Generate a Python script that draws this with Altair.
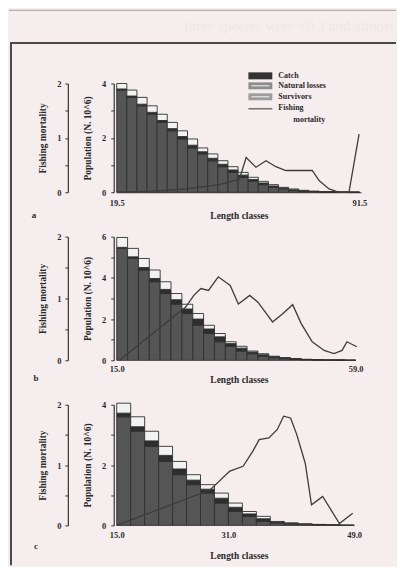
import altair as alt
import pandas as pd

# ---------------- data ----------------
components = ["Survivors", "Catch", "Natural losses"]

# panel a
a_classes = [19.5, 22.5, 25.5, 28.5, 31.5, 34.5, 37.5, 40.5, 43.5, 46.5, 49.5, 52.5,
             55.5, 58.5, 61.5, 64.5, 67.5, 70.5, 73.5, 76.5, 79.5, 82.5, 85.5, 88.5]
a_survivors = [3.76, 3.49, 3.18, 2.87, 2.57, 2.26, 1.96, 1.63, 1.41, 1.16, 0.94, 0.73,
               0.55, 0.40, 0.28, 0.18, 0.12, 0.07, 0.04, 0.02, 0.01, 0.01, 0.0, 0.0]
a_catch = [0.04, 0.05, 0.06, 0.07, 0.07, 0.08, 0.09, 0.10, 0.08, 0.09, 0.09, 0.09,
           0.08, 0.07, 0.06, 0.05, 0.03, 0.02, 0.01, 0.01, 0.0, 0.0, 0.0, 0.0]
a_natural = [0.20, 0.22, 0.25, 0.24, 0.23, 0.23, 0.21, 0.23, 0.14, 0.16, 0.13, 0.12,
             0.10, 0.08, 0.06, 0.05, 0.03, 0.03, 0.02, 0.01, 0.01, 0.0, 0.01, 0.0]
a_line_len = [19.5, 30.0, 40.0, 50.0, 55.9, 57.9, 60.8, 63.8, 66.7, 69.7, 77.5, 79.6,
              82.5, 85.5, 88.4, 91.4]
a_line_f = [0.0, 0.02, 0.06, 0.14, 0.24, 0.64, 0.46, 0.58, 0.47, 0.40, 0.40, 0.21,
            0.06, 0.0, 0.0, 1.07]

# panel b
b_classes = [15, 17, 19, 21, 23, 25, 27, 29, 31, 33, 35, 37, 39, 41, 43, 45, 47, 49,
             51, 53, 55, 57]
b_survivors = [5.43, 4.94, 4.38, 3.81, 3.24, 2.72, 2.27, 1.70, 1.30, 0.90, 0.68, 0.45,
               0.32, 0.20, 0.13, 0.08, 0.05, 0.03, 0.02, 0.01, 0.01, 0.0]
b_catch = [0.05, 0.08, 0.12, 0.16, 0.20, 0.22, 0.22, 0.30, 0.22, 0.24, 0.13, 0.14,
           0.08, 0.07, 0.04, 0.03, 0.02, 0.01, 0.01, 0.0, 0.0, 0.0]
b_natural = [0.48, 0.41, 0.44, 0.41, 0.37, 0.30, 0.23, 0.27, 0.18, 0.16, 0.09, 0.09,
             0.05, 0.05, 0.03, 0.02, 0.01, 0.01, 0.0, 0.01, 0.0, 0.01]
b_line_len = [15.5, 27.7, 29.2, 30.5, 31.9, 32.8, 33.7, 35.9, 37.4, 39.5, 41.0, 42.6,
              43.7, 45.5, 47.4, 49.0, 51.0, 53.2, 55.0, 56.5, 57.4, 59.2]
b_line_f = [0.0, 0.86, 1.05, 1.16, 1.13, 1.24, 1.35, 1.21, 0.91, 1.05, 0.94, 0.75,
            0.62, 0.75, 0.90, 0.59, 0.30, 0.16, 0.11, 0.16, 0.30, 0.22]

# panel c
c_classes = [15, 17, 19, 21, 23, 25, 27, 29, 31, 33, 35, 37, 39, 41, 43, 45, 47]
c_survivors = [3.60, 3.12, 2.62, 2.12, 1.68, 1.35, 1.07, 0.74, 0.46, 0.30, 0.13, 0.08,
               0.05, 0.03, 0.02, 0.01, 0.0]
c_catch = [0.12, 0.15, 0.18, 0.20, 0.19, 0.15, 0.13, 0.16, 0.14, 0.08, 0.09, 0.03,
           0.02, 0.01, 0.01, 0.0, 0.0]
c_natural = [0.33, 0.33, 0.32, 0.30, 0.25, 0.18, 0.15, 0.17, 0.14, 0.08, 0.08, 0.02,
             0.01, 0.01, 0.0, 0.01, 0.01]
c_line_len = [15.0, 28.4, 31.2, 33.1, 34.5, 35.4, 36.8, 38.0, 38.9, 39.9, 40.8, 42.0,
              42.9, 44.5, 46.9, 48.8]
c_line_f = [0.0, 0.59, 0.90, 0.98, 1.23, 1.42, 1.45, 1.59, 1.81, 1.78, 1.50, 1.03,
            0.34, 0.48, 0.03, 0.20]

legend_labels = ["Catch", "Natural losses", "Survivors", "Fishing", "mortality"]
panel_letters = ["a", "b", "c"]
x_title = "Length classes"
y_pop_title = "Population (N. 10^6)"
y_fm_title = "Fishing mortality"
bleed_text = ["three species were <0.3 and almost"]

FONT = "Liberation Serif"
INK = "#2a2a2a"


def bars_frame(classes, width, surv, catch, nat):
    rows = []
    for L, s, c, n in zip(classes, surv, catch, nat):
        for k, (comp, v) in enumerate(zip(components, [s, c, n])):
            rows.append({"lo": L, "hi": L + width, "comp": comp, "val": v, "k": k})
    return pd.DataFrame(rows)


def one(text):
    return pd.DataFrame({"t": [text]})


def panel(classes, width, surv, catch, nat, line_len, line_f, xdom, xticks,
          ymax, surv_color, height, label_pad, title_pad, show_domain,
          letter, letter_xy, extra=None):
    df = bars_frame(classes, width, surv, catch, nat)
    xscale = alt.Scale(domain=xdom, nice=False, zero=False)
    xaxis = alt.Axis(
        values=xticks, format=".1f", ticks=False, domain=show_domain,
        domainColor="#444", domainWidth=1.2, labelPadding=label_pad,
        labelFlush=False, labelOverlap=False, labelBound=False,
        title=x_title, titlePadding=title_pad, grid=False,
        labelFont=FONT, labelFontSize=8.5, labelFontWeight="bold", labelColor=INK,
        titleFont=FONT, titleFontSize=9.5, titleFontWeight="bold", titleColor=INK)
    bars = alt.Chart(df).transform_stack(
        stack="val", groupby=["lo"], as_=["y0", "y1"],
        sort=[alt.SortField(field="k", order="ascending")]
    ).mark_rect(stroke="#303030", strokeWidth=0.9).encode(
        x=alt.X("lo:Q", scale=xscale, axis=xaxis, title=x_title),
        x2="hi:Q",
        y=alt.Y("y0:Q", scale=alt.Scale(domain=[0, ymax], nice=False), axis=alt.Axis(
            orient="left", offset=3, values=list(range(0, ymax + 1)),
            labelExpr="datum.value % 2 == 0 ? datum.value : ''",
            tickSize=3, labelPadding=5, domainColor="#333", tickColor="#333",
            domainWidth=1.2, grid=False, title=y_pop_title, titlePadding=9,
            labelFont=FONT, labelFontSize=8.5, labelFontWeight="bold", labelColor=INK,
            titleFont=FONT, titleFontSize=9.5, titleFontWeight="bold", titleColor=INK)),
        y2="y1:Q",
        fill=alt.Fill("comp:N", scale=alt.Scale(
            domain=components, range=[surv_color, "#2e2e2e", "#f2f2f2"]), legend=None),
    )
    ldf = pd.DataFrame({"L": line_len, "F": line_f})
    line = alt.Chart(ldf).mark_line(color="#3c3c3c", strokeWidth=1.3).encode(
        x=alt.X("L:Q", scale=xscale, axis=xaxis, title=x_title),
        y=alt.Y("F:Q", scale=alt.Scale(domain=[0, 2], nice=False), axis=alt.Axis(
            orient="left", offset=49, values=[0, 0.5, 1, 1.5, 2],
            labelExpr="datum.value % 1 == 0 ? datum.value : ''",
            tickSize=3, labelPadding=4, domainColor="#333", tickColor="#333",
            domainWidth=1.2, grid=False, title=y_fm_title, titlePadding=9,
            labelFont=FONT, labelFontSize=8.5, labelFontWeight="bold", labelColor=INK,
            titleFont=FONT, titleFontSize=9.5, titleFontWeight="bold", titleColor=INK)),
    )
    let = alt.Chart(one(letter)).mark_text(
        font=FONT, fontSize=9, fontWeight="bold", color=INK
    ).encode(x=alt.value(letter_xy[0]), y=alt.value(letter_xy[1]), text="t:N")
    layers = [bars, line, let] + (extra or [])
    return alt.layer(*layers).resolve_scale(y="independent").properties(
        width=245, height=height)


# decorations for the top panel: page edge, frame, bleed-through text, legend
deco = []
deco.append(alt.Chart(one("edge")).mark_rule(color="#a8a0a0", strokeWidth=1).encode(
    x=alt.value(-108), x2=alt.value(280), y=alt.value(-73.4)))
deco.append(alt.Chart(one("frame")).mark_rule(color="#4a4a4a", strokeWidth=2).encode(
    x=alt.value(-107), x2=alt.value(280), y=alt.value(-40.7)))
deco.append(alt.Chart(one("frame")).mark_rule(color="#4a4a4a", strokeWidth=2).encode(
    x=alt.value(-106), y=alt.value(-40.7), y2=alt.value(483)))
deco.append(alt.Chart(one(bleed_text[0])).mark_text(
    font=FONT, fontSize=15, color="#f0e6e6", align="right", baseline="middle"
).encode(x=alt.value(278), y=alt.value(-57.7), text="t:N"))

swatch_fill = ["#333333", "#8e8e8e", "#9c9c9c"]
row_y = [-7.7, 2.3, 13.3]
for lab, col, yy in zip(legend_labels[:3], swatch_fill, row_y):
    deco.append(alt.Chart(one(lab)).mark_rect(color=col).encode(
        x=alt.value(132), x2=alt.value(156), y=alt.value(yy - 3.5), y2=alt.value(yy + 3.5)))
    if lab != "Catch":
        deco.append(alt.Chart(one(lab)).mark_rule(color="#f4f4f4", strokeWidth=1).encode(
            x=alt.value(135), x2=alt.value(153), y=alt.value(yy)))
    deco.append(alt.Chart(one(lab)).mark_text(
        font=FONT, fontSize=8, fontWeight="bold", color=INK, align="left", baseline="middle"
    ).encode(x=alt.value(162), y=alt.value(yy), text="t:N"))
deco.append(alt.Chart(one("line")).mark_rule(color="#777777", strokeWidth=1.6).encode(
    x=alt.value(132), x2=alt.value(156), y=alt.value(25.3)))
deco.append(alt.Chart(one(legend_labels[3])).mark_text(
    font=FONT, fontSize=8, fontWeight="bold", color=INK, align="left", baseline="middle"
).encode(x=alt.value(162), y=alt.value(24.3), text="t:N"))
deco.append(alt.Chart(one(legend_labels[4])).mark_text(
    font=FONT, fontSize=8, fontWeight="bold", color=INK, align="left", baseline="middle"
).encode(x=alt.value(177), y=alt.value(37), text="t:N"))

pa = panel(a_classes, 3, a_survivors, a_catch, a_natural, a_line_len, a_line_f,
           [19.5, 92.0], [19.5, 91.5], 4, "#555555", 109, 6, 4, True,
           panel_letters[0], (-83, 132), deco)
pb = panel(b_classes, 2, b_survivors, b_catch, b_natural, b_line_len, b_line_f,
           [15.0, 60.0], [15.0, 59.0], 6, "#a8a8a8", 124, 4, 2, False,
           panel_letters[1], (-81, 142))
pc = panel(c_classes, 2, c_survivors, c_catch, c_natural, c_line_len, c_line_f,
           [15.0, 50.0], [15.0, 31.0, 49.0], 4, "#5c5c5c", 121, 5, 12, False,
           panel_letters[2], (-81, 142))

chart = alt.vconcat(pa, pb, pc, spacing=44.5, bounds="flush").properties(
    padding={"left": 0, "top": 1, "right": 0, "bottom": 0}
).configure(background="#f6eeee", font=FONT).configure_view(stroke=None)

chart.save("out.html", embed_options={"renderer": "svg", "actions": False})
